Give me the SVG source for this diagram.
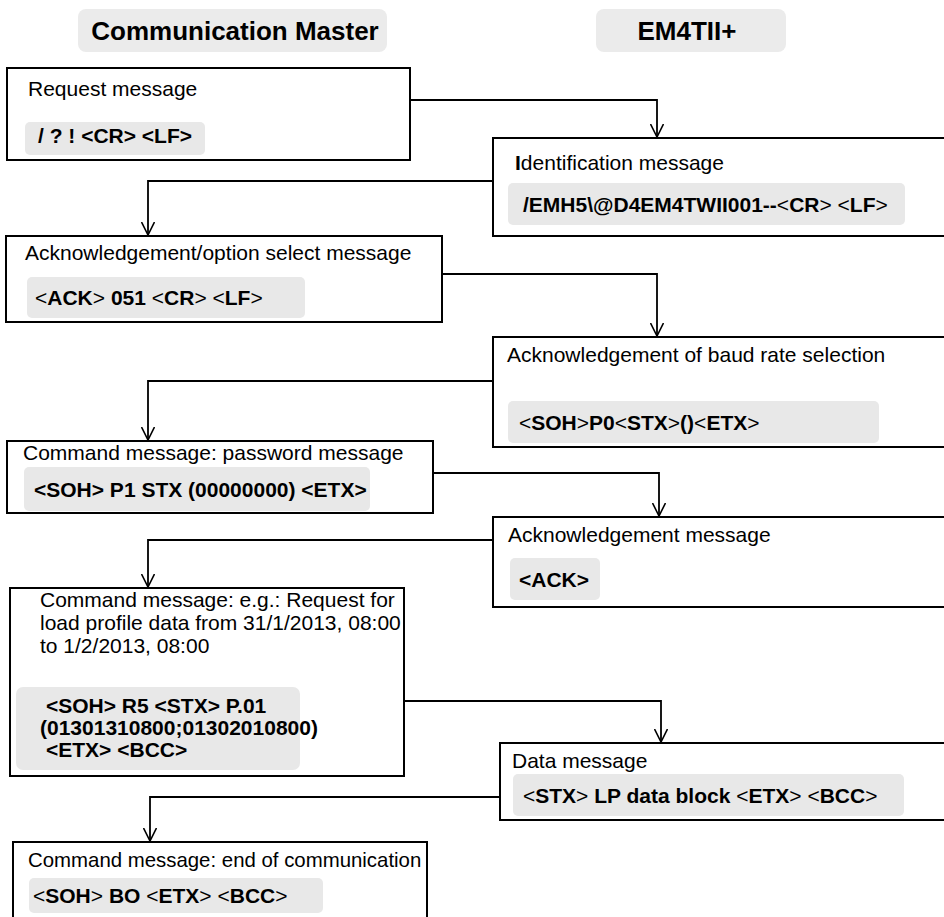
<svg xmlns="http://www.w3.org/2000/svg" width="944" height="917" viewBox="0 0 944 917">
<style>
.box{fill:#fff;stroke:#000;stroke-width:2}
.chip{fill:#e8e8e8}
.hdr{fill:#ebebeb}
.t{font-family:"Liberation Sans",Arial,sans-serif;font-size:21px;fill:#000}
.h{font-family:"Liberation Sans",Arial,sans-serif;font-size:26px;font-weight:bold;fill:#000}
.b{font-weight:bold}
.conn{fill:none;stroke:#000;stroke-width:1.8}
</style>
<defs>
<marker id="arr" viewBox="0 0 14 14" refX="13" refY="7" markerWidth="14" markerHeight="14" markerUnits="userSpaceOnUse" orient="auto">
<path d="M0,0.5 L13,7 L0,13.5" fill="none" stroke="#000" stroke-width="1.6"/>
</marker>
</defs>
<g id="hdr-master"><rect class="hdr" x="78" y="9" width="309" height="43" rx="8"/><text class="h" x="235" y="40" text-anchor="middle">Communication Master</text></g>
<g id="hdr-em4"><rect class="hdr" x="596" y="9" width="190" height="43" rx="8"/><text class="h" x="687" y="40" text-anchor="middle">EM4TII+</text></g>

<g id="connectors">
<path class="conn" d="M410,100 H657 V137" marker-end="url(#arr)"/>
<path class="conn" d="M493,181 H148 V235" marker-end="url(#arr)"/>
<path class="conn" d="M442,274 H657 V336" marker-end="url(#arr)"/>
<path class="conn" d="M493,381 H148 V440" marker-end="url(#arr)"/>
<path class="conn" d="M433,473 H659 V516" marker-end="url(#arr)"/>
<path class="conn" d="M493,540 H148 V587" marker-end="url(#arr)"/>
<path class="conn" d="M404,701 H661 V742" marker-end="url(#arr)"/>
<path class="conn" d="M500,797 H150 V841" marker-end="url(#arr)"/>
</g>

<g id="n1"><rect class="box" x="7" y="68" width="403" height="92"/>
<text class="t" x="28" y="96">Request message</text>
<rect class="chip" x="25" y="122" width="180" height="33" rx="5"/>
<text class="t b" x="38" y="143">/ ? ! &lt;CR&gt; &lt;LF&gt;</text></g>

<g id="n2"><rect class="box" x="493" y="138" width="470" height="98"/>
<text class="t" x="515" y="170"><tspan class="b">I</tspan>dentification message</text>
<rect class="chip" x="508" y="183" width="397" height="42" rx="5"/>
<text class="t" x="523" y="212"><tspan class="b">/EMH5\@D4EM4TWII001--</tspan>&lt;<tspan class="b">CR</tspan>&gt; &lt;<tspan class="b">LF</tspan>&gt;</text></g>

<g id="n3"><rect class="box" x="6" y="236" width="436" height="86"/>
<text class="t" x="25" y="260">Acknowledgement/option select message</text>
<rect class="chip" x="27" y="277" width="278" height="41" rx="5"/>
<text class="t" x="35" y="305">&lt;<tspan class="b">ACK</tspan>&gt; <tspan class="b">051</tspan> &lt;<tspan class="b">CR</tspan>&gt; &lt;<tspan class="b">LF</tspan>&gt;</text></g>

<g id="n4"><rect class="box" x="493" y="337" width="470" height="110"/>
<text class="t" x="507" y="362">Acknowledgement of baud rate selection</text>
<rect class="chip" x="508" y="401" width="371" height="42" rx="5"/>
<text class="t" x="519" y="430">&lt;<tspan class="b">SOH</tspan>&gt;<tspan class="b">P0</tspan>&lt;<tspan class="b">STX</tspan>&gt;<tspan class="b">()</tspan>&lt;<tspan class="b">ETX</tspan>&gt;</text></g>

<g id="n5"><rect class="box" x="7" y="441" width="426" height="72"/>
<text class="t" x="23" y="460">Command message: password message</text>
<rect class="chip" x="24" y="467" width="346" height="44" rx="5"/>
<text class="t b" x="34" y="497">&lt;SOH&gt; P1 STX (00000000) &lt;ETX&gt;</text></g>

<g id="n6"><rect class="box" x="493" y="517" width="470" height="90"/>
<text class="t" x="508" y="542">Acknowledgement message</text>
<rect class="chip" x="510" y="558" width="90" height="42" rx="5"/>
<text class="t b" x="519" y="587">&lt;ACK&gt;</text></g>

<g id="n7"><rect class="box" x="10" y="588" width="394" height="188"/>
<text class="t" x="40" y="607">Command message: e.g.: Request for</text>
<text class="t" x="40" y="630">load profile data from 31/1/2013, 08:00</text>
<text class="t" x="40" y="653">to 1/2/2013, 08:00</text>
<rect class="chip" x="16" y="687" width="284" height="83" rx="7"/>
<text class="t b" x="46" y="713">&lt;SOH&gt; R5 &lt;STX&gt; P.01</text>
<text class="t b" x="40" y="735">(01301310800;01302010800)</text>
<text class="t b" x="46" y="757">&lt;ETX&gt; &lt;BCC&gt;</text></g>

<g id="n8"><rect class="box" x="500" y="743" width="463" height="77"/>
<text class="t" x="512" y="768">Data message</text>
<rect class="chip" x="513" y="774" width="391" height="42" rx="5"/>
<text class="t" x="523" y="803">&lt;<tspan class="b">STX</tspan>&gt; <tspan class="b">LP data block</tspan> &lt;<tspan class="b">ETX</tspan>&gt; &lt;<tspan class="b">BCC</tspan>&gt;</text></g>

<g id="n9"><rect class="box" x="13" y="842" width="414" height="100"/>
<text class="t" x="28" y="867" style="font-size:20.4px">Command message: end of communication</text>
<rect class="chip" x="29" y="878" width="294" height="35" rx="5"/>
<text class="t" x="33" y="903">&lt;<tspan class="b">SOH</tspan>&gt; <tspan class="b">BO</tspan> &lt;<tspan class="b">ETX</tspan>&gt; &lt;<tspan class="b">BCC</tspan>&gt;</text></g>
</svg>
